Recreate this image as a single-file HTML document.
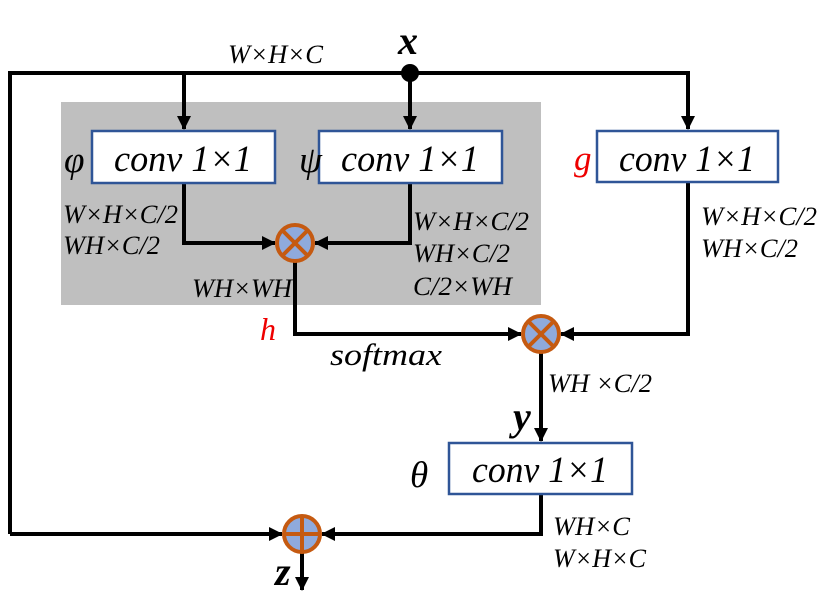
<!DOCTYPE html>
<html><head><style>
html,body{margin:0;padding:0;background:#fff;}
svg text{font-family:"Liberation Serif",serif;font-style:italic;fill:#000;}
</style></head><body>
<svg width="831" height="605" viewBox="0 0 831 605" xmlns="http://www.w3.org/2000/svg">
<defs>
<marker id="b" markerWidth="14" markerHeight="14" refX="13" refY="7" orient="auto" markerUnits="userSpaceOnUse">
<path d="M0,0 L14,7 L0,14 z" fill="#000"/></marker>
</defs>
<rect x="61" y="102" width="480" height="203" fill="#bfbfbf"/>
<g stroke="#000" stroke-width="4" fill="none">
<polyline points="10,534 10,73 688,73 688,129" marker-end="url(#b)"/>
<line x1="184" y1="73" x2="184" y2="129" marker-end="url(#b)"/>
<line x1="410" y1="73" x2="410" y2="129" marker-end="url(#b)"/>
<polyline points="184,183 184,243 275,243" marker-end="url(#b)"/>
<polyline points="410,183 410,243 315,243" marker-end="url(#b)"/>
<polyline points="295,261 295,334 521,334" marker-end="url(#b)"/>
<polyline points="688,182 688,334 561,334" marker-end="url(#b)"/>
<line x1="541" y1="352" x2="541" y2="441" marker-end="url(#b)"/>
<polyline points="541,494 541,534 322,534" marker-end="url(#b)"/>
<line x1="10" y1="534" x2="282" y2="534" marker-end="url(#b)"/>
<line x1="302" y1="552" x2="302" y2="590" marker-end="url(#b)"/>
</g>
<circle cx="410" cy="73" r="9" fill="#000"/>
<g fill="#fff" stroke="#2f5597" stroke-width="2.5">
<rect x="92" y="131" width="183" height="52"/>
<rect x="319" y="131" width="183" height="52"/>
<rect x="597" y="131" width="181" height="51"/>
<rect x="449" y="443" width="183" height="51"/>
</g>
<g stroke="#c55a11" stroke-width="4" fill="#8faadc">
<circle cx="295" cy="243" r="18"/>
<circle cx="541" cy="334" r="18"/>
<circle cx="302" cy="534" r="18"/>
</g>
<g stroke="#c55a11" stroke-width="4">
<line x1="283" y1="231" x2="307" y2="255"/><line x1="307" y1="231" x2="283" y2="255"/>
<line x1="529" y1="322" x2="553" y2="346"/><line x1="553" y1="322" x2="529" y2="346"/>
<line x1="302" y1="516" x2="302" y2="552"/><line x1="284" y1="534" x2="320" y2="534"/>
</g>
<g font-size="37">
<text x="114" y="171" textLength="138" lengthAdjust="spacingAndGlyphs">conv 1×1</text>
<text x="341" y="171" textLength="138" lengthAdjust="spacingAndGlyphs">conv 1×1</text>
<text x="619" y="171" textLength="136" lengthAdjust="spacingAndGlyphs">conv 1×1</text>
<text x="472" y="482" textLength="136" lengthAdjust="spacingAndGlyphs">conv 1×1</text>
<text x="64" y="172">φ</text>
<text x="299" y="172">ψ</text>
<text x="410" y="487">θ</text>
</g>
<text x="574" y="170" font-size="35" style="fill:#e00">g</text>
<text x="260" y="340" font-size="32" style="fill:#e00">h</text>
<g font-weight="bold" font-size="40">
<text x="398" y="54">x</text>
<text x="513" y="430">y</text>
<text x="275" y="585">z</text>
</g>
<g font-size="26">
<text x="228" y="63" textLength="95" lengthAdjust="spacingAndGlyphs">W×H×C</text>
<text x="63" y="223" textLength="115" lengthAdjust="spacingAndGlyphs">W×H×C/2</text>
<text x="63" y="254" textLength="97" lengthAdjust="spacingAndGlyphs">WH×C/2</text>
<text x="413" y="230" textLength="116" lengthAdjust="spacingAndGlyphs">W×H×C/2</text>
<text x="413" y="262" textLength="97" lengthAdjust="spacingAndGlyphs">WH×C/2</text>
<text x="413" y="295" textLength="99" lengthAdjust="spacingAndGlyphs">C/2×WH</text>
<text x="192" y="297" textLength="100" lengthAdjust="spacingAndGlyphs">WH×WH</text>
<text x="701" y="225" textLength="116" lengthAdjust="spacingAndGlyphs">W×H×C/2</text>
<text x="701" y="257" textLength="97" lengthAdjust="spacingAndGlyphs">WH×C/2</text>
<text x="548" y="392" textLength="104" lengthAdjust="spacingAndGlyphs">WH ×C/2</text>
<text x="553" y="535" textLength="77" lengthAdjust="spacingAndGlyphs">WH×C</text>
<text x="553" y="567" textLength="93" lengthAdjust="spacingAndGlyphs">W×H×C</text>
</g>
<text x="330" y="365" font-size="31" textLength="112" lengthAdjust="spacingAndGlyphs">softmax</text>
</svg>
</body></html>
